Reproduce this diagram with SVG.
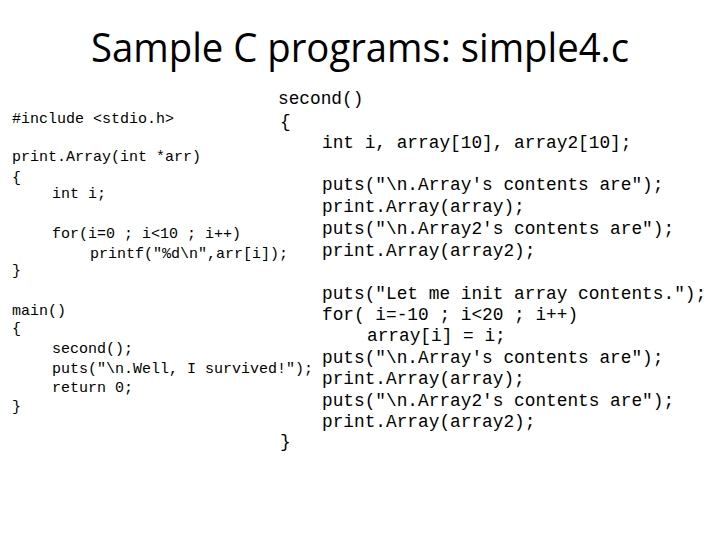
<svg xmlns="http://www.w3.org/2000/svg" width="720" height="540" viewBox="0 0 720 540">
<style>
.t{font-family:"Open Sans","Liberation Sans",sans-serif;font-size:40px;fill:#000}
.l{font-family:"Liberation Mono",monospace;font-size:15px;fill:#000;white-space:pre}
.r{font-family:"Liberation Mono",monospace;font-size:17.8px;fill:#000;white-space:pre}
</style>
<rect width="720" height="540" fill="#fff"/>
<text class="t" x="360" y="62" text-anchor="middle" textLength="538" lengthAdjust="spacingAndGlyphs">Sample C programs: simple4.c</text>
<g id="left">
<text class="l" x="12" y="123">#include &lt;stdio.h&gt;</text>
<text class="l" x="12" y="161">print.Array(int *arr)</text>
<text class="l" x="12" y="182">{</text>
<text class="l" x="52" y="198">int i;</text>
<text class="l" x="52" y="238">for(i=0 ; i&lt;10 ; i++)</text>
<text class="l" x="90" y="258">printf("%d\n",arr[i]);</text>
<text class="l" x="12" y="275">}</text>
<text class="l" x="12" y="315">main()</text>
<text class="l" x="12" y="333">{</text>
<text class="l" x="52" y="353">second();</text>
<text class="l" x="52" y="373">puts("\n.Well, I survived!");</text>
<text class="l" x="52" y="392">return 0;</text>
<text class="l" x="12" y="411">}</text>
</g>
<g id="right">
<text class="r" x="278" y="104">second()</text>
<text class="r" x="280" y="127">{</text>
<text class="r" x="322" y="148">int i, array[10], array2[10];</text>
<text class="r" x="322" y="190">puts("\n.Array's contents are");</text>
<text class="r" x="322" y="212">print.Array(array);</text>
<text class="r" x="322" y="234">puts("\n.Array2's contents are");</text>
<text class="r" x="322" y="256">print.Array(array2);</text>
<text class="r" x="322" y="299">puts("Let me init array contents.");</text>
<text class="r" x="322" y="320">for( i=-10 ; i&lt;20 ; i++)</text>
<text class="r" x="367" y="341">array[i] = i;</text>
<text class="r" x="322" y="363">puts("\n.Array's contents are");</text>
<text class="r" x="322" y="384">print.Array(array);</text>
<text class="r" x="322" y="406">puts("\n.Array2's contents are");</text>
<text class="r" x="322" y="427">print.Array(array2);</text>
<text class="r" x="280" y="447">}</text>
</g>
</svg>
